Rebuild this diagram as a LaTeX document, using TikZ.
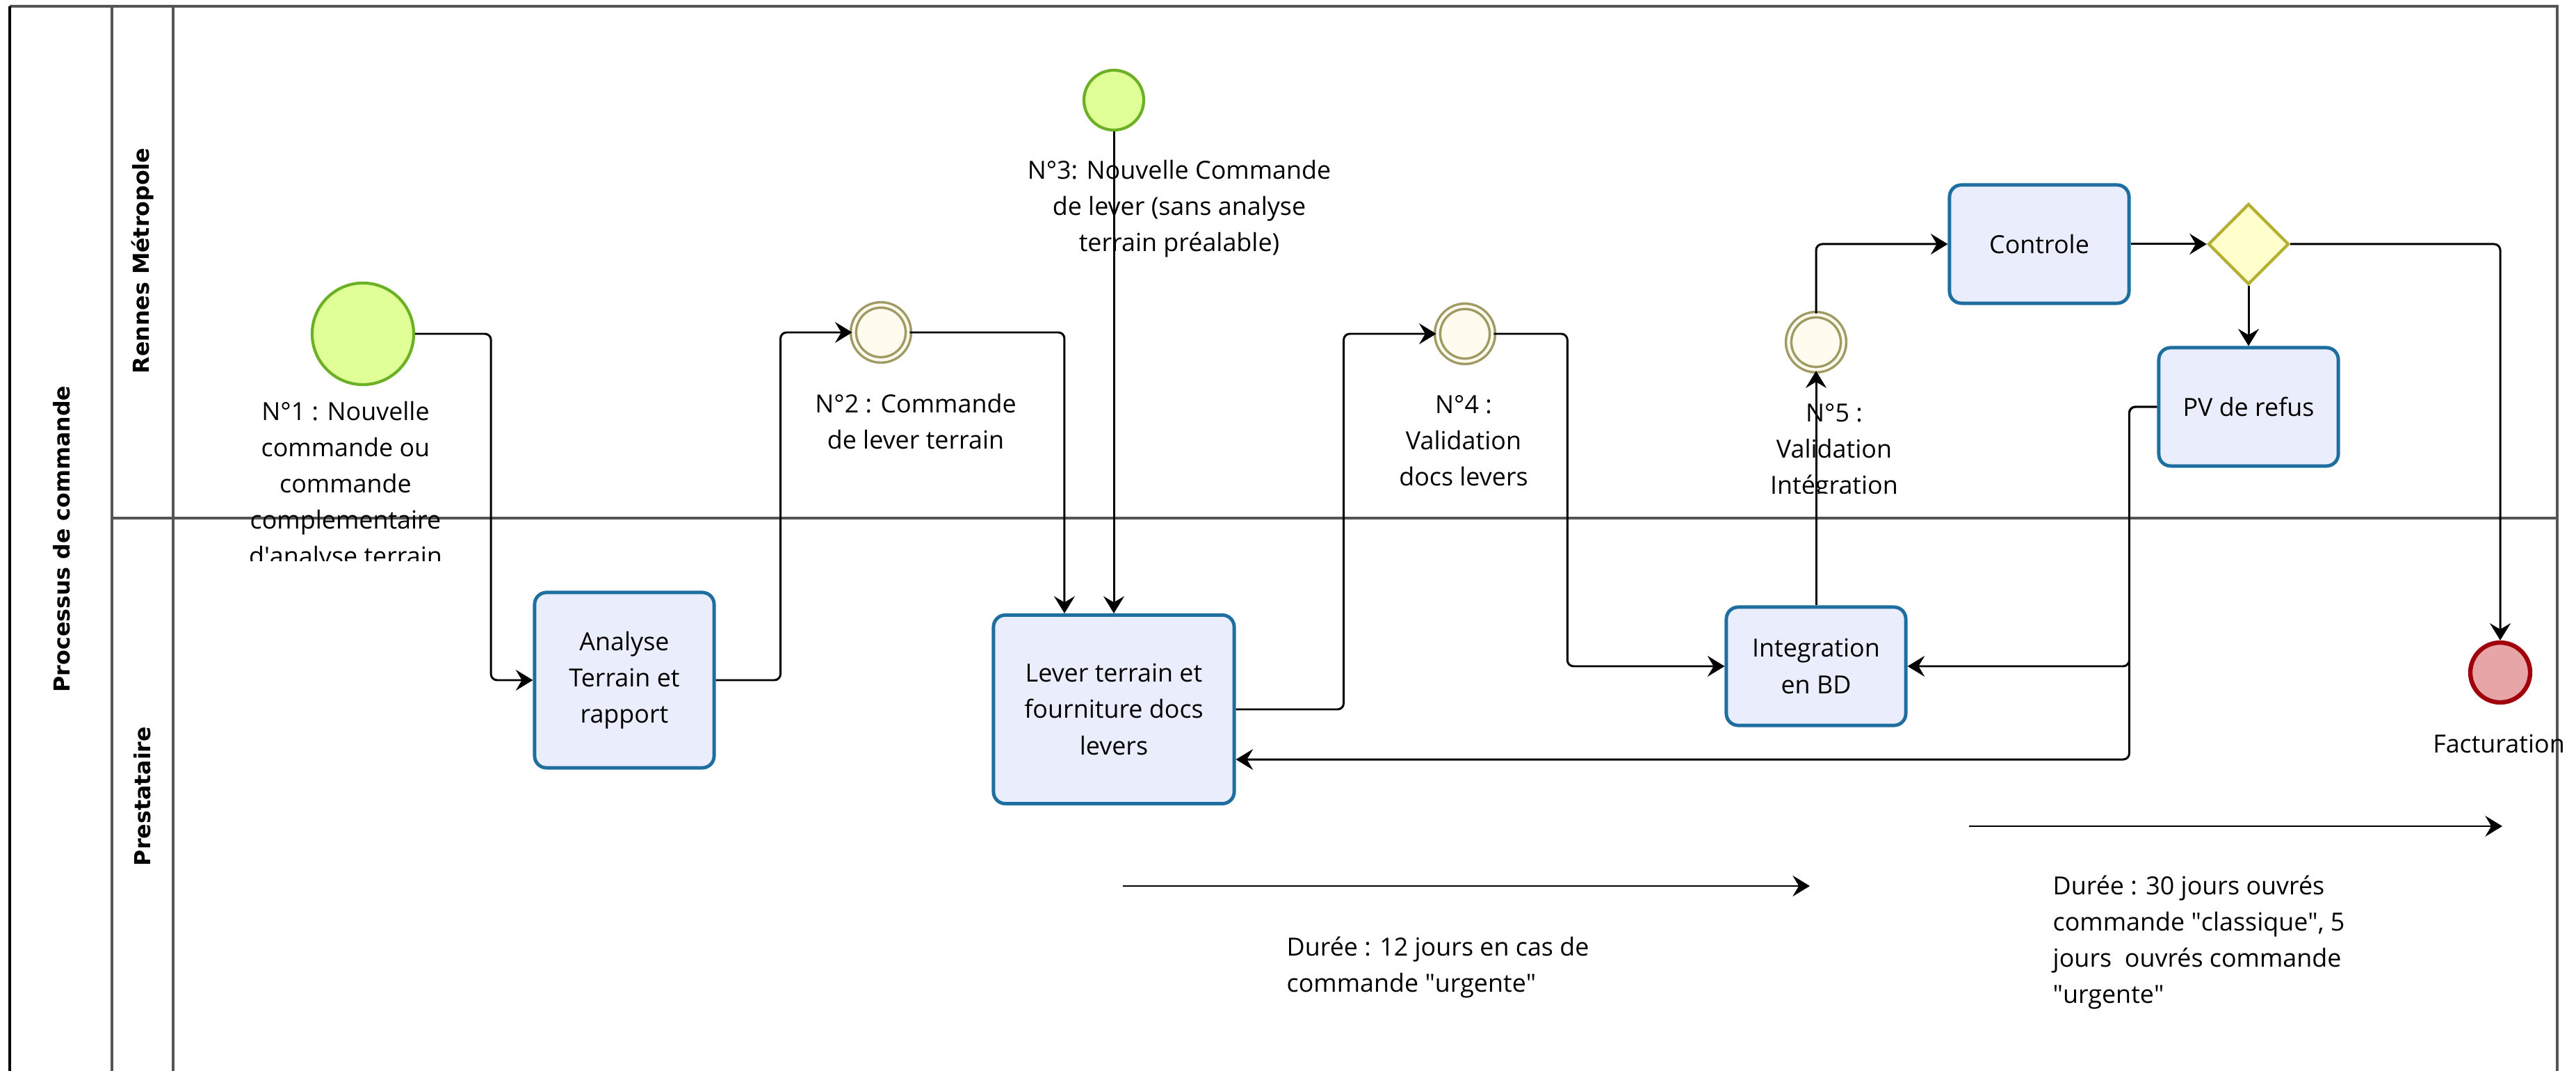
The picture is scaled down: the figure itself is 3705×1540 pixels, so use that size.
\documentclass[tikz,border=0pt]{standalone}
\usepackage{fontspec}
\setmainfont{Open Sans}
\newfontfamily\lanefont{DejaVu Sans}
\usetikzlibrary{arrows.meta,positioning,calc,shapes.geometric}

\definecolor{taskfill}{RGB}{234,238,252}
\definecolor{taskline}{RGB}{30,110,160}
\definecolor{startfill}{RGB}{224,255,150}
\definecolor{startline}{RGB}{108,176,38}
\definecolor{midfill}{RGB}{255,251,238}
\definecolor{midline}{RGB}{160,155,100}
\definecolor{gatefill}{RGB}{255,255,204}
\definecolor{gateline}{RGB}{180,175,50}
\definecolor{endfill}{RGB}{232,165,168}
\definecolor{endline}{RGB}{160,0,12}
\definecolor{frameline}{RGB}{85,85,85}

\begin{document}
\begin{tikzpicture}[
    x=0.01cm, y=-0.01cm,
    font=\fontsize{10.2}{14.8}\selectfont,
    task/.style={rectangle, draw=taskline, fill=taskfill, line width=1.4pt, rounded corners=0.17cm, minimum width=2.58cm, minimum height=1.7cm, align=center, inner sep=0pt},
    startev/.style={circle, draw=startline, fill=startfill, line width=1.2pt, minimum size=0.86cm, inner sep=0pt},
    midev/.style={circle, draw=midline, fill=midfill, line width=1pt, double=midfill, double distance=1.2pt, minimum size=0.79cm, inner sep=0pt},
    endev/.style={circle, draw=endline, fill=endfill, line width=1.8pt, minimum size=0.86cm, inner sep=0pt},
    gateway/.style={diamond, draw=gateline, fill=gatefill, line width=1.2pt, minimum size=1.16cm, inner sep=0pt},
    evlabel/.style={align=center, inner sep=0pt},
    note/.style={align=left, anchor=west, inner sep=0pt},
    lane/.style={rotate=90, inner sep=0pt, font=\lanefont\bfseries\fontsize{9}{11}\selectfont},
    frame/.style={draw=frameline, line width=1.1pt},
    flow/.style={-{Stealth[length=7pt, width=8.5pt, inset=2.5pt]}, line width=0.85pt, rounded corners=2.5pt}
]
    \useasboundingbox (0,0) rectangle (3705,1540);

    % Pool and lanes
    \draw[frame] (14,9) -- (3678,9) -- (3678,1540);
    \draw[frame] (161,9) -- (161,1540);
    \draw[frame] (249,9) -- (249,1540);
    \draw[frame] (161,745) -- (3678,745);
    \draw[line width=1.4pt] (14,9) -- (14,1540);
    \node[lane] (pool) at (89,775) {Processus de commande};
    \node[lane] (rm) at (205,375) {Rennes Métropole};
    \node[lane] (presta) at (205,1145) {Prestataire};

    % Tasks
    \node[task, minimum height=2.52cm] (analyse) at (898,978) {Analyse\\Terrain et\\rapport};
    \node[task, minimum width=3.46cm, minimum height=2.71cm] (lever) at (1602,1020) {Lever terrain et\\fourniture docs\\levers};
    \node[task] (integ) at (2612,958) {Integration\\en BD};
    \node[task] (controle) at (2933,351) {Controle};
    \node[task] (pv) at (3234,585) {PV de refus};

    % Events and gateway
    \node[startev, minimum size=1.46cm] (n1) at (522,480) {};
    \node[midev] (n2) at (1267,478) {};
    \node[startev] (n3) at (1602,144) {};
    \node[midev] (n4) at (2107,480) {};
    \node[midev] (n5) at (2612,492) {};
    \node[gateway] (gate) at (3234,351) {};
    \node[endev] (fin) at (3596,967) {};

    % Event labels
    \begin{scope}
        \clip (300,540) rectangle (720,807);
        \node[evlabel] (n1lab) at (497,699) {N°1 : Nouvelle\\commande ou\\commande\\complementaire\\d\textquotesingle analyse terrain};
    \end{scope}
    \node[evlabel] (n2lab) at (1317,606) {N°2 : Commande\\de lever terrain};
    \node[evlabel] (n3lab) at (1696,300) {N°3: Nouvelle Commande\\de lever (sans analyse\\terrain préalable)};
    \node[evlabel] (n4lab) at (2105,634) {N°4 :\\Validation\\docs levers};
    \begin{scope}
        \clip (2450,560) rectangle (2820,710);
        \node[evlabel] (n5lab) at (2638,650) {N°5 :\\Validation\\Intégration};
    \end{scope}
    \node[evlabel] (finlab) at (3594,1070) {Facturation};

    % Sequence flows
    \draw[flow] (n1.east) -- ++(109,0) |- (analyse);
    \draw[flow] (analyse.east) -- ++(93,0) |- (n2);
    \draw[flow] (n2) -| ([xshift=-0.71cm]lever.north);
    \draw[flow] (n3) -- (lever);
    \draw[flow] (lever.east) -- ++(155,0) |- (n4);
    \draw[flow] (n4.east) -- ++(106,0) |- (integ);
    \draw[flow] (integ) -- (n5);
    \draw[flow] (n5) |- (controle);
    \draw[flow] (controle) -- (gate);
    \draw[flow] (gate) -- (pv);
    \draw[flow] (gate) -| (fin);
    \draw[flow] (pv.west) -- ++(-40,0) |- (integ);
    \draw[flow] (pv.west) -- ++(-40,0) |- ([yshift=-0.72cm]lever.east);

    % Durations
    \coordinate (d1a) at (1615,1274);
    \coordinate (d1b) at (2603,1274);
    \coordinate (d2a) at (2832,1188);
    \coordinate (d2b) at (3599,1188);
    \draw[flow] (d1a) -- (d1b);
    \draw[flow] (d2a) -- (d2b);
    \node[note] (dur1) at (1850,1391) {Durée : 12 jours en cas de\\commande \textquotedbl urgente\textquotedbl};
    \node[note] (dur2) at (2952,1355) {Durée : 30 jours ouvrés\\commande \textquotedbl classique\textquotedbl, 5\\jours \ ouvrés commande\\\textquotedbl urgente\textquotedbl};
\end{tikzpicture}
\end{document}
